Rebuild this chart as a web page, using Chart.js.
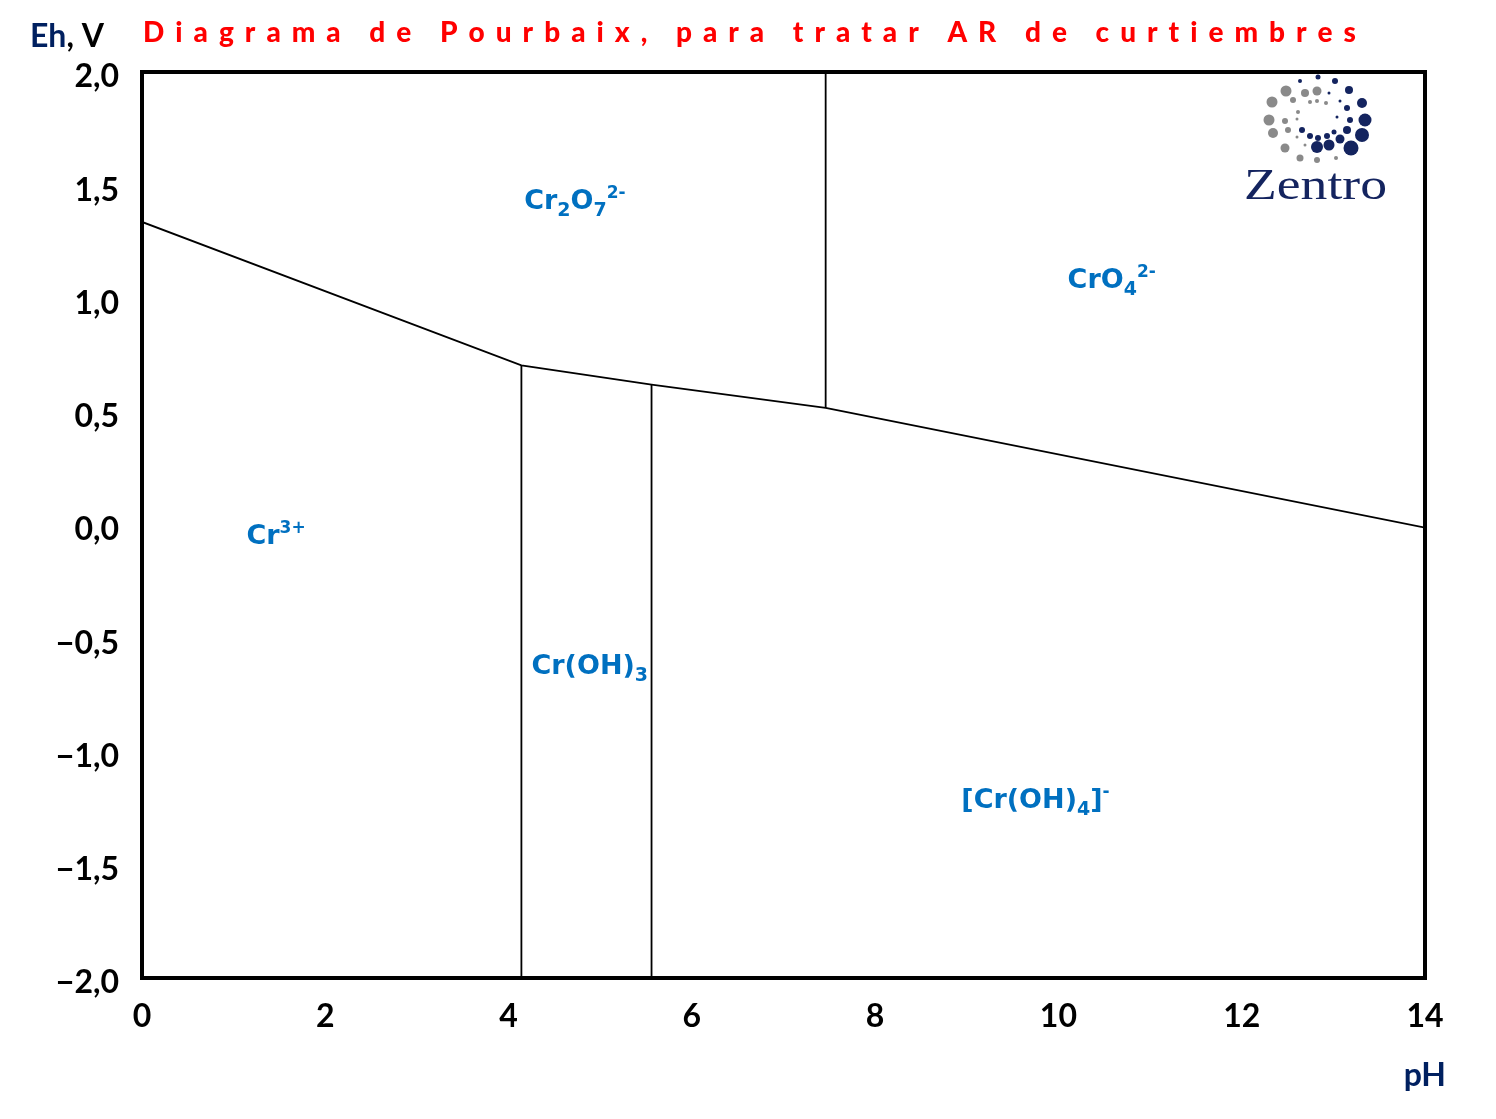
<!DOCTYPE html>
<html><head><meta charset="utf-8">
<script src="https://cdn.jsdelivr.net/npm/chart.js@4.4.0/dist/chart.umd.min.js"></script>
<style>html,body{margin:0;padding:0;background:#fff;}canvas{display:block;}</style>
</head><body>
<canvas id="c" width="1496" height="1119"></canvas>
<script>
// ---- tick labels ----
const xTickValues = [0, 2, 4, 6, 8, 10, 12, 14];
const xTickLabels = ['0', '2', '4', '6', '8', '10', '12', '14'];
const yTickValues = [-2, -1.5, -1, -0.5, 0, 0.5, 1, 1.5, 2];
const yTickLabels = ['−2,0', '−1,5', '−1,0', '−0,5', '0,0', '0,5', '1,0', '1,5', '2,0'];

// ---- boundary lines (pH, Eh) ----
const upperBoundaryPH = [0, 4.14, 5.56, 7.46, 14];
const upperBoundaryEh = [1.338, 0.705, 0.62, 0.517, -0.012];
const cr3CrOH3PH = [4.14, 4.14];
const cr3CrOH3Eh = [-2, 0.705];
const crOH3CrOH4PH = [5.56, 5.56];
const crOH3CrOH4Eh = [-2, 0.62];
const dichromateChromatePH = [7.46, 7.46];
const dichromateChromateEh = [0.517, 2];

// ---- region labels (species) ----
const regionSpecies = [
  [['Cr', 0], ['2', -1], ['O', 0], ['7', -1], ['2-', 1]],
  [['CrO', 0], ['4', -1], ['2-', 1]],
  [['Cr', 0], ['3+', 1]],
  [['Cr(OH)', 0], ['3', -1]],
  [['[Cr(OH)', 0], ['4', -1], [']', 0], ['-', 1]]
];
const regionPH = [4.17, 10.1, 1.14, 4.25, 8.94];
const regionEh = [1.435, 1.085, -0.045, -0.62, -1.21];

const title = 'Diagrama de Pourbaix, para tratar AR de curtiembres';

function pts(xs, ys) { return xs.map((x, i) => ({ x: x, y: ys[i] })); }

const lineStyle = { showLine: true, borderColor: '#000', borderWidth: 1.8, pointRadius: 0, fill: false, tension: 0 };

const logoDots = [
  [1318,77,2.5,1],[1300,81,2,1],[1335,81,3,1],[1349,90,4,1],[1286,91,5.5,0],[1305,93,4,0],[1317,91,4.5,0],
  [1329,93,1.5,1],[1362,103,5,1],[1272,102,5.5,0],[1293,100,3,0],[1310,102,2,0],[1317,101,2,0],[1326,103,2,0],
  [1340,101,1.5,1],[1347,108,3,1],[1365,120,6.5,1],[1269,120,5.5,0],[1285,121,3,0],[1298,112,2,0],[1297,119,1.5,0],
  [1337,117,1.5,1],[1350,120,3,1],[1347,130,4,1],[1362,135,7,1],[1273,133,5,0],[1288,130,3,0],[1297,137,1.5,0],
  [1302,130,3,1],[1310,136,3,1],[1318,138,3,1],[1327,136,3,1],[1334,132,2.5,1],[1340,139,4.5,1],[1317,147,6,1],
  [1329,145,5.5,1],[1351,148,7.5,1],[1285,148,4.5,0],[1305,145,1.5,0],[1300,158,3.5,0],[1317,160,3,0],[1336,158,2,0]
];

const decor = {
  id: 'decor',
  afterDatasetsDraw(chart) {
    const ctx = chart.ctx, a = chart.chartArea;
    const xs = chart.scales.x, ys = chart.scales.y;
    ctx.save();
    // frame
    ctx.strokeStyle = '#000'; ctx.lineWidth = 4;
    ctx.strokeRect(a.left, a.top, a.right - a.left, a.bottom - a.top);

    // region labels
    const base = 27;
    ctx.fillStyle = '#0070C0';
    ctx.textBaseline = 'alphabetic';
    regionSpecies.forEach((parts, i) => {
      let x = xs.getPixelForValue(regionPH[i]);
      const y = ys.getPixelForValue(regionEh[i]) + 9;
      parts.forEach(([t, s]) => {
        const size = s === 0 ? base : (s < 0 ? 19 : 17);
        ctx.font = 'bold ' + size + 'px "DejaVu Sans"';
        const dy = s === 0 ? 0 : (s < 0 ? 7 : -11);
        ctx.fillText(t, x, y + dy);
        x += ctx.measureText(t).width;
      });
    });

    // logo
    logoDots.forEach(([x, y, r, c]) => {
      ctx.beginPath(); ctx.arc(x, y, r, 0, Math.PI * 2);
      ctx.fillStyle = c ? '#14245f' : '#8a8a8a'; ctx.fill();
    });
    ctx.save();
    ctx.translate(1244, 199); ctx.scale(1.22, 1);
    ctx.font = '44px "Liberation Serif"'; ctx.fillStyle = '#14245f';
    ctx.textBaseline = 'alphabetic';
    ctx.fillText('Zentro', 0, 0);
    ctx.restore();
    ctx.restore();
  },
  afterDraw(chart) {
    const ctx = chart.ctx;
    ctx.save();
    // title with wide letter spacing
    ctx.font = '900 28px Lato';
    ctx.fillStyle = '#FF0000';
    ctx.textBaseline = 'middle';
    const chars = Array.from(title);
    const natural = chars.reduce((s, ch) => s + ctx.measureText(ch).width, 0);
    const startX = 143, endX = 1356;
    const gap = (endX - startX - natural) / (chars.length - 1);
    let x = startX;
    chars.forEach(ch => { ctx.fillText(ch, x, 33); x += ctx.measureText(ch).width + gap; });

    // Eh, V
    ctx.font = 'bold 32px Lato';
    ctx.fillStyle = '#002060';
    ctx.fillText('Eh', 30, 37);
    let w = ctx.measureText('Eh').width;
    ctx.fillStyle = '#000';
    ctx.fillText(', V', 30 + w, 37);

    // pH
    ctx.fillStyle = '#002060';
    ctx.textAlign = 'right';
    ctx.fillText('pH', 1446, 1076);
    ctx.restore();
  }
};

new Chart(document.getElementById('c'), {
  type: 'scatter',
  data: {
    datasets: [
      Object.assign({ data: pts(upperBoundaryPH, upperBoundaryEh) }, lineStyle),
      Object.assign({ data: pts(cr3CrOH3PH, cr3CrOH3Eh) }, lineStyle),
      Object.assign({ data: pts(crOH3CrOH4PH, crOH3CrOH4Eh) }, lineStyle),
      Object.assign({ data: pts(dichromateChromatePH, dichromateChromateEh) }, lineStyle)
    ]
  },
  options: {
    responsive: false,
    animation: false,
    events: [],
    layout: { padding: { top: 72, right: 71, left: 0, bottom: 0 } },
    plugins: { legend: { display: false }, tooltip: { enabled: false }, title: { display: false } },
    scales: {
      x: {
        type: 'linear', min: 0, max: 14,
        grid: { display: false, drawTicks: false },
        border: { display: false },
        afterBuildTicks(s) { s.ticks = xTickValues.map(v => ({ value: v })); },
        afterFit(s) { s.height = 141; },
        ticks: {
          autoSkip: false, maxRotation: 0, padding: 19, color: '#000',
          font: { family: 'Lato', weight: 'bold', size: 32 },
          callback: (v) => xTickLabels[xTickValues.indexOf(v)]
        }
      },
      y: {
        type: 'linear', min: -2, max: 2,
        grid: { display: false, drawTicks: false },
        border: { display: false },
        afterBuildTicks(s) { s.ticks = yTickValues.map(v => ({ value: v })); },
        afterFit(s) { s.width = 142; },
        ticks: {
          autoSkip: false, padding: 23, color: '#000', labelOffset: 5,
          font: { family: 'Lato', weight: 'bold', size: 32 },
          callback: (v) => yTickLabels[yTickValues.indexOf(v)]
        }
      }
    }
  },
  plugins: [decor]
});
</script>
</body></html>
